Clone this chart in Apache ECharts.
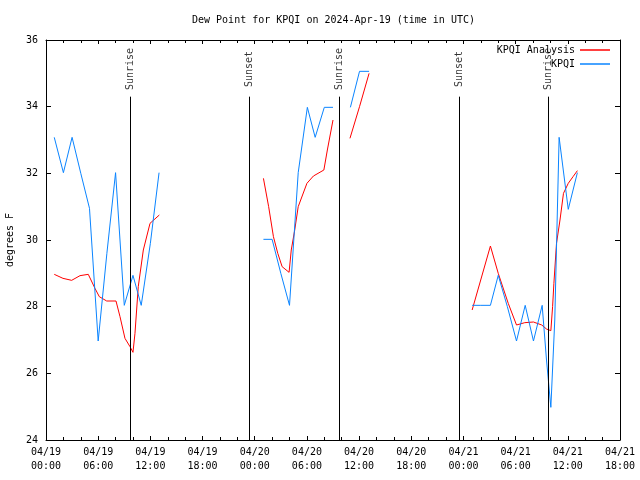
<!DOCTYPE html>
<html>
<head>
<meta charset="utf-8">
<script src="https://cdn.jsdelivr.net/npm/echarts@6/dist/echarts.min.js"></script>
<style>html,body{margin:0;padding:0;background:#fff;}#c{width:640px;height:480px;}</style>
</head>
<body>
<div id="c"></div>
<script>
// hours since 2024-04-19 00:00 UTC
const tickDates = ['04/19','04/19','04/19','04/19','04/20','04/20','04/20','04/20','04/21','04/21','04/21','04/21'];
const tickTimes = ['00:00','06:00','12:00','18:00','00:00','06:00','12:00','18:00','00:00','06:00','12:00','18:00'];

const obsTimes = [0.95,2.0,3.0,4.0,5.0,6.0,7.0,8.0,9.0,10.0,10.95,12.0,13.0, 19,
  25.0,26.0,27.0,28.0,29.0,30.05,30.95,32.0,33.0, 34,
  35.0,36.05,37.15, 43,
  49.0,50.0,51.1,52.0,53.05,54.1,55.1,56.05,57.05,57.55,58.05,58.5,59.0,60.05,61.1];
const obsValues = [33.08,32.02,33.08,32.0,30.95,26.97,29.6,32.02,28.04,28.94,28.04,29.9,32.02, null,
  30.02,30.02,29.0,28.04,32.02,33.98,33.08,33.98,33.98, null,
  33.98,35.06,35.06, null,
  28.04,28.04,28.04,28.94,28.0,26.97,28.04,26.97,28.04,26.4,24.98,27.6,33.08,30.92,32.02];

const anaTimes = [0.95,1.95,2.95,3.91,4.86,5.63,6.13,6.98,8.05,8.51,9.08,9.66,10.0,10.23,10.61,11.19,11.96,13.03, 19,
  25.0,25.6,26.15,26.65,27.15,27.95,28.2,28.6,29.0,30.0,30.75,31.95,32.35,33.0, 34,
  34.95,36.05,37.15, 43,
  49.0,51.1,52.0,53.15,54.1,55.05,56.05,57.0,57.55,58.05,58.25,58.4,58.7,59.1,59.5,60.05,60.6,61.1];
const anaValues = [28.97,28.85,28.79,28.93,28.97,28.55,28.3,28.17,28.17,27.7,27.05,26.8,26.63,27.2,28.6,29.7,30.5,30.75, null,
  31.85,31.0,30.1,29.6,29.2,29.03,29.7,30.3,31.0,31.7,31.92,32.1,32.7,33.6, null,
  33.05,34.0,35.0, null,
  27.9,29.82,29.0,28.1,27.45,27.52,27.54,27.45,27.33,27.28,28.0,28.7,29.9,30.6,31.4,31.7,31.9,32.08];

const sunTimes = [9.65, 23.4, 33.75, 47.55, 57.75];
const sunLabels = ['Sunrise','Sunset','Sunrise','Sunset','Sunrise'];

const FONT = 'DejaVu Sans Mono';
const pairs = (ts, vs) => ts.map((t, i) => [t, vs[i] === null ? '-' : vs[i]]);

const chart = echarts.init(document.getElementById('c'), null, {renderer: 'canvas'});
chart.setOption({
  animation: false,
  backgroundColor: '#ffffff',
  textStyle: {fontFamily: FONT, fontSize: 10, color: '#000'},
  title: {
    text: 'Dew Point for KPQI on 2024-Apr-19 (time in UTC)',
    left: 192, top: 15, padding: 0,
    textStyle: {fontFamily: FONT, fontSize: 10, fontWeight: 'normal', color: '#000'}
  },
  legend: {
    data: [{name: 'KPQI Analysis', icon: 'rect'}, {name: 'KPQI', icon: 'rect'}],
    orient: 'vertical', align: 'right', right: 30, top: 44, padding: 0,
    itemWidth: 30, itemHeight: 1.5, itemGap: 2,
    textStyle: {fontFamily: FONT, fontSize: 10, color: '#000', lineHeight: 12}
  },
  grid: {left: 46, right: 20, top: 40, bottom: 40, containLabel: false, outerBoundsMode: 'none'},
  xAxis: [{
    type: 'value', min: 0, max: 66, interval: 6, position: 'bottom',
    axisLine: {show: true, onZero: false, lineStyle: {color: '#000', width: 1}},
    axisTick: {show: true, inside: true, length: 4, lineStyle: {color: '#000'}},
    minorTick: {show: true, splitNumber: 3, length: 3, lineStyle: {color: '#000'}},
    splitLine: {show: false},
    axisLabel: {
      margin: 5, fontFamily: FONT, fontSize: 10, color: '#000', lineHeight: 14,
      formatter: v => { const i = Math.round(v / 6); return tickDates[i] + '\n' + tickTimes[i]; }
    }
  }, {
    type: 'value', min: 0, max: 66, interval: 6, position: 'top',
    axisLine: {show: true, onZero: false, lineStyle: {color: '#000', width: 1}},
    axisTick: {show: true, inside: true, length: 4, lineStyle: {color: '#000'}},
    minorTick: {show: true, splitNumber: 3, length: 3, lineStyle: {color: '#000'}},
    splitLine: {show: false},
    axisLabel: {show: false}
  }],
  yAxis: [{
    type: 'value', min: 24, max: 36, interval: 2, position: 'left',
    name: 'degrees F', nameLocation: 'middle', nameGap: 30, nameRotate: 90,
    nameTextStyle: {fontFamily: FONT, fontSize: 10, color: '#000'},
    axisLine: {show: true, onZero: false, lineStyle: {color: '#000', width: 1}},
    axisTick: {show: true, inside: true, length: 5, lineStyle: {color: '#000'}},
    splitLine: {show: false},
    axisLabel: {margin: 8, fontFamily: FONT, fontSize: 10, color: '#000'}
  }, {
    type: 'value', min: 24, max: 36, interval: 2, position: 'right',
    axisLine: {show: true, onZero: false, lineStyle: {color: '#000', width: 1}},
    axisTick: {show: true, inside: true, length: 5, lineStyle: {color: '#000'}},
    splitLine: {show: false},
    axisLabel: {show: false}
  }],
  series: [
    {
      name: 'sun', type: 'scatter', xAxisIndex: 0, yAxisIndex: 0, z: 1,
      symbolSize: 0, silent: true,
      data: sunTimes.map((t, i) => ({name: sunLabels[i], value: [t, 35.04]})),
      label: {show: true, position: 'inside', rotate: 90, offset: [3, 0], formatter: '{b}',
        fontFamily: FONT, fontSize: 10, color: '#000'},
      markLine: {
        silent: true, symbol: 'none', animation: false,
        lineStyle: {color: '#000', width: 1, type: 'solid'},
        label: {show: false},
        data: sunTimes.map(t => [{coord: [t, 34.3]}, {coord: [t, 24]}])
      }
    },
    {
      name: 'KPQI Analysis', type: 'line', xAxisIndex: 0, yAxisIndex: 0, z: 2,
      showSymbol: false, connectNulls: false,
      lineStyle: {color: '#ff0000', width: 1}, itemStyle: {color: '#ff0000'},
      data: pairs(anaTimes, anaValues)
    },
    {
      name: 'KPQI', type: 'line', xAxisIndex: 0, yAxisIndex: 0, z: 3,
      showSymbol: false, connectNulls: false,
      lineStyle: {color: '#0a84ff', width: 1}, itemStyle: {color: '#0a84ff'},
      data: pairs(obsTimes, obsValues)
    }
  ]
});
</script>
</body>
</html>
